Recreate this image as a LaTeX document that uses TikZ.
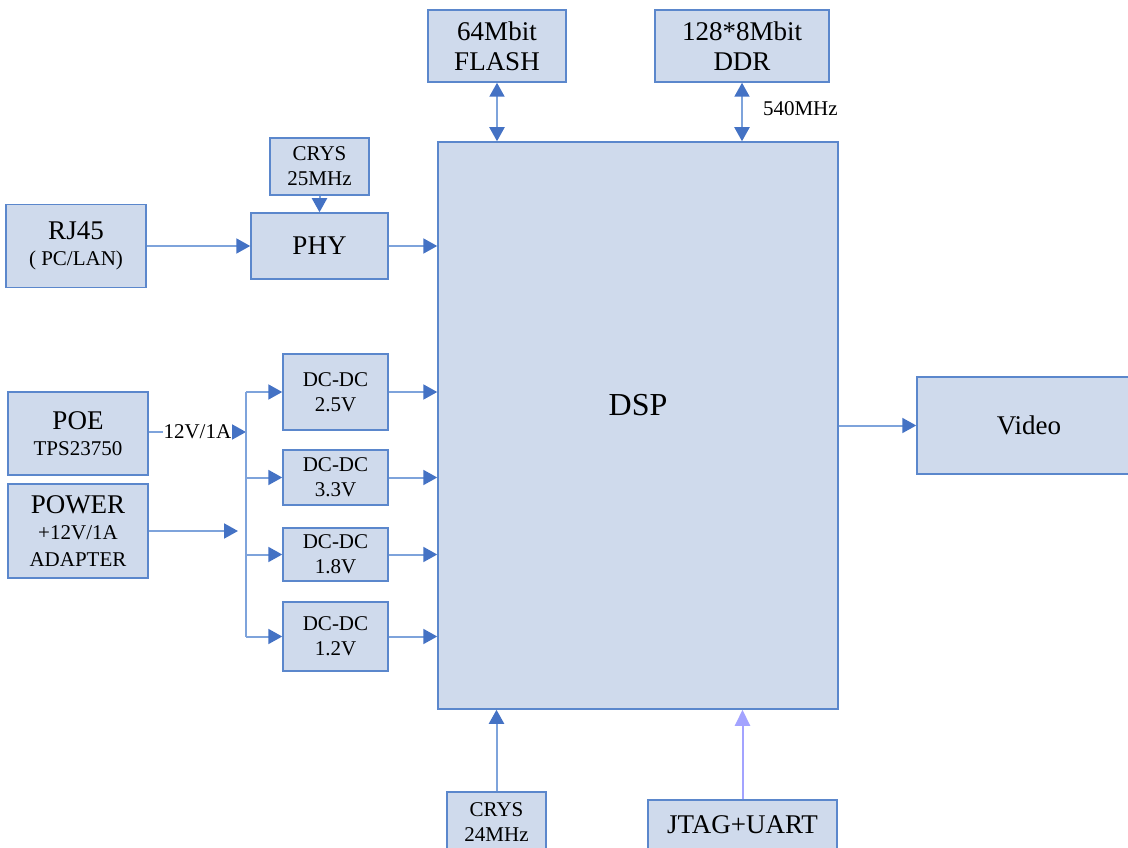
\documentclass[tikz,border=0pt]{standalone}
\usepackage{fontspec}
\setmainfont{Liberation Serif}
\usetikzlibrary{arrows.meta}
\definecolor{boxfill}{HTML}{CFDAEC}
\definecolor{boxline}{HTML}{5B87CC}
\definecolor{wire}{HTML}{7EA3DB}
\definecolor{tipblue}{HTML}{4472C4}
\definecolor{jtagline}{HTML}{A3A3FF}
\newcommand{\fbig}{\fontsize{27}{30}\selectfont}
\newcommand{\fsml}{\fontsize{21}{25}\selectfont}
\begin{document}
\begin{tikzpicture}[x=1pt, y=-1pt,
    blk/.style={draw=boxline, fill=boxfill, line width=1.5pt, inner sep=0pt, align=center, font=\fbig},
    link/.style={draw=wire, line width=2pt, -{Triangle[length=14pt,width=15pt,color=tipblue]}},
    dlink/.style={link, {Triangle[length=14pt,width=15pt,color=tipblue]}-{Triangle[length=14pt,width=15pt,color=tipblue]}},
    bus/.style={draw=wire, line width=2pt}]
    \useasboundingbox (0,0) rectangle (1128,848);
    % Blocks
    \node[blk, minimum width=400, minimum height=567,
        label={[yshift=20pt, font=\fontsize{32}{36}\selectfont]center:DSP}] (dsp) at (638,425.5) {};
    \node[blk, minimum width=138, minimum height=72] (flash) at (497,46) {64Mbit\\FLASH};
    \node[blk, minimum width=174, minimum height=72] (ddr) at (742,46) {128*8Mbit\\DDR};
    \node[blk, minimum width=99, minimum height=57, font=\fsml] (crysa) at (319.5,166.5) {CRYS\\25MHz};
    \node[blk, minimum width=137, minimum height=66] (phy) at (319.5,246) {PHY};
    \node[blk, minimum width=140, minimum height=83] (rj) at (76,246) {RJ45\\[-4pt]{\fsml ( PC/LAN)}};
    \node[blk, minimum width=140, minimum height=83] (poe) at (78,433.5) {POE\\[-4pt]{\fsml TPS23750}};
    \node[blk, minimum width=140, minimum height=94] (power) at (78,531) {POWER\\[-4pt]{\fsml +12V/1A}\\[-3pt]{\fsml ADAPTER}};
    \node[blk, minimum width=105, minimum height=76, font=\fsml] (dca) at (335.5,392) {DC-DC\\2.5V};
    \node[blk, minimum width=105, minimum height=55, font=\fsml] (dcb) at (335.5,477.5) {DC-DC\\3.3V};
    \node[blk, minimum width=105, minimum height=53, font=\fsml] (dcc) at (335.5,554.5) {DC-DC\\1.8V};
    \node[blk, minimum width=105, minimum height=69, font=\fsml] (dcd) at (335.5,636.5) {DC-DC\\1.2V};
    \node[blk, minimum width=224, minimum height=97] (video) at (1029,425.5) {Video};
    \node[blk, minimum width=99, minimum height=60, font=\fsml] (crysb) at (496.5,822) {CRYS\\24MHz};
    \node[blk, minimum width=189, minimum height=50] (jtag) at (742.5,825) {JTAG+UART};
    \coordinate (bus) at (246,432);
    \coordinate (pin) at (238,531);
    % Connectors
    \draw[dlink] (flash.south) -- (flash.south |- dsp.north);
    \draw[dlink] (ddr.south) -- (ddr.south |- dsp.north)
        node[midway, right=20pt, font=\fsml, inner sep=0pt, yshift=3pt] {540MHz};
    \draw[link] (crysa) -- (phy);
    \draw[link] (rj) -- (phy);
    \draw[link] (phy.east) -- (phy.east -| dsp.west);
    \draw[link] (poe.east |- bus) -- (bus)
        node[midway, fill=white, inner sep=1pt, font=\fsml] {12V/1A};
    \draw[link] (power.east |- pin) -- (pin);
    \draw[bus] (dca.west -| bus) -- (dcd.west -| bus);
    \foreach \dc in {dca,dcb,dcc,dcd} {
        \draw[link] (\dc.west -| bus) -- (\dc.west);
        \draw[link] (\dc.east) -- (\dc.east -| dsp.west);
    }
    \draw[link] (dsp.east |- video) -- (video.west);
    \draw[link] (crysb.north) -- (crysb.north |- dsp.south);
    \draw[link, draw=jtagline, -{Triangle[length=16pt,width=15pt,color=jtagline]}] (jtag.north) -- (jtag.north |- dsp.south);
\end{tikzpicture}
\end{document}
